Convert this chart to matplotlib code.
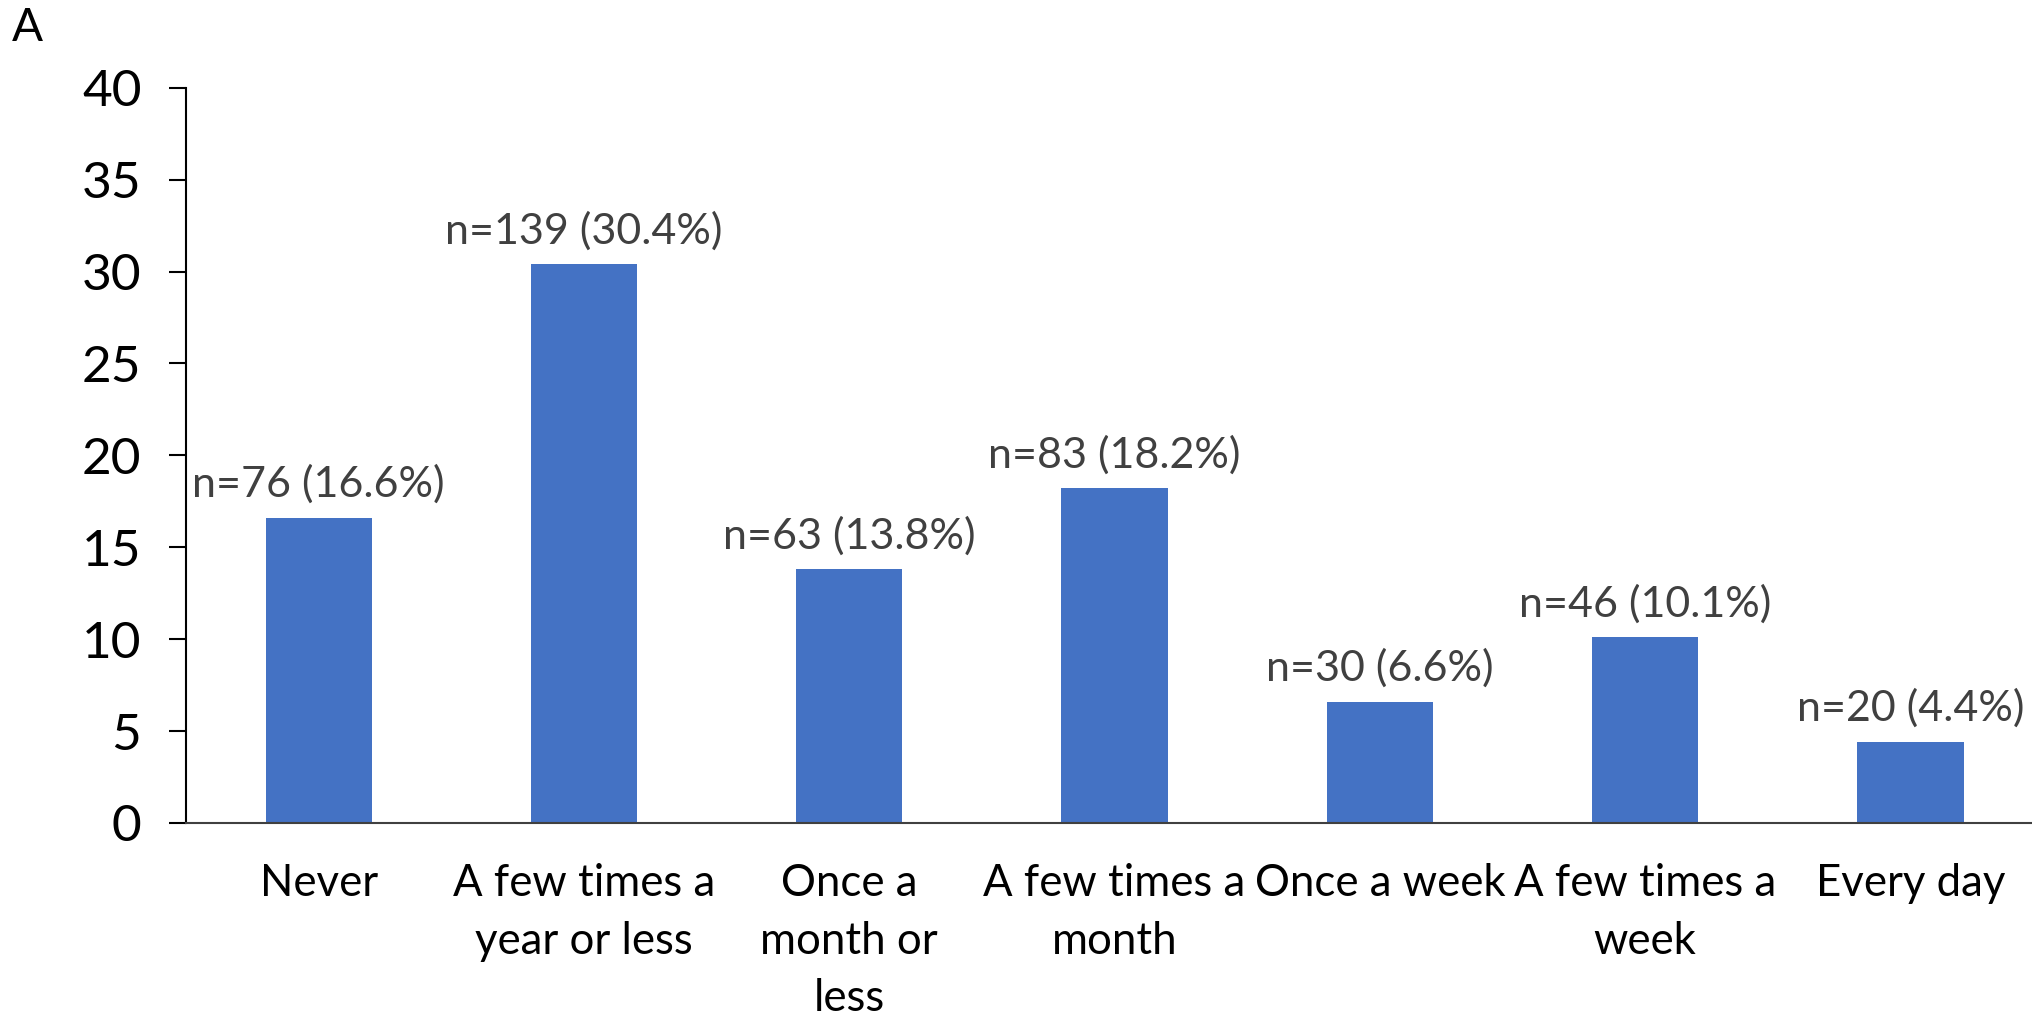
import matplotlib
matplotlib.use("Agg")
import matplotlib.pyplot as plt

categories = [
    "Never",
    "A few times a\nyear or less",
    "Once a\nmonth or\nless",
    "A few times a\nmonth",
    "Once a week",
    "A few times a\nweek",
    "Every day",
]
percent = [16.6, 30.4, 13.8, 18.2, 6.6, 10.1, 4.4]
counts = [76, 139, 63, 83, 30, 46, 20]
yticks = [0, 5, 10, 15, 20, 25, 30, 35, 40]

plt.rcParams["font.family"] = ["Lato", "DejaVu Sans"]

fig = plt.figure(figsize=(20.32, 10.21), dpi=100)
ax = fig.add_axes([0.0915, 0.194, 0.914, 0.72])

x = range(len(categories))
bars = ax.bar(x, percent, width=0.4, color="#4472C4", zorder=2)

for bar, n, p in zip(bars, counts, percent):
    ax.annotate(f"n={n} ({p}%)",
                (bar.get_x() + bar.get_width() / 2, bar.get_height()),
                xytext=(0, 10), textcoords="offset points",
                ha="center", va="bottom", fontsize=31, color="#404040")

ax.set_xlim(-0.5, len(categories) - 0.5)
ax.set_ylim(0, 40)
ax.set_yticks(yticks)
ax.set_xticks(list(x))
ax.set_xticklabels(categories, fontsize=31.5, linespacing=1.5)
ax.tick_params(axis="x", length=0, pad=29)
ax.tick_params(axis="y", labelsize=37, length=12, width=1.5, direction="out", pad=20)

for side in ("top", "right"):
    ax.spines[side].set_visible(False)
ax.spines["left"].set_linewidth(1.5)
ax.spines["bottom"].set_linewidth(1.5)
ax.spines["bottom"].set_color("#404040")

fig.text(0.006, 0.993, "A", fontsize=33, ha="left", va="top")

fig.savefig("out.png", dpi=100)
